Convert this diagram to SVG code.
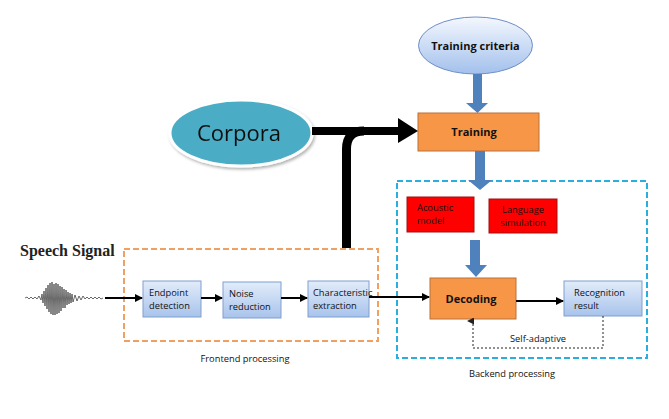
<svg xmlns="http://www.w3.org/2000/svg" width="669" height="419" viewBox="0 0 669 419">
<defs>
<linearGradient id="gBlue" x1="0" y1="0" x2="0" y2="1">
<stop offset="0" stop-color="#e2ecfa"/>
<stop offset="1" stop-color="#a8c3eb"/>
</linearGradient>
<linearGradient id="gEll" x1="0" y1="0" x2="0" y2="1">
<stop offset="0" stop-color="#f4f8fe"/>
<stop offset="1" stop-color="#a3c0ec"/>
</linearGradient>
<marker id="ah" markerWidth="8" markerHeight="8" refX="7" refY="4" orient="auto" markerUnits="userSpaceOnUse">
<path d="M0,0 L8,4 L0,8 Z" fill="#000"/>
</marker>
<marker id="ahs" markerWidth="7" markerHeight="7" refX="3.5" refY="6" orient="auto" markerUnits="userSpaceOnUse">
<path d="M0,0 L7,0 L3.5,7 Z" fill="#222" transform="rotate(180 3.5 3.5)"/>
</marker>
<filter id="sh" x="-20%" y="-20%" width="140%" height="140%">
<feDropShadow dx="1.5" dy="2" stdDeviation="1.5" flood-color="#000" flood-opacity="0.3"/>
</filter>
</defs>
<style>
.bx{fill:url(#gBlue);stroke:#7f9fcf;stroke-width:1}
.or{fill:#f79646;stroke:#b9703a;stroke-width:1}
.rd{fill:#ff0000;stroke:#a01010;stroke-width:1}
.t{font-family:"Open Sans","Noto Sans",sans-serif;font-size:9.3px;fill:#111}
.tb{font-family:"Open Sans","Noto Sans",sans-serif;font-size:11px;font-weight:bold;fill:#111}
.ln{stroke:#000;stroke-width:2;fill:none}
.barrow{fill:#4f81bd}
</style>

<g id="dashed-boxes">
<rect x="124" y="249" width="254" height="92" fill="none" stroke="#f0a060" stroke-width="2" stroke-dasharray="6,3"/>
<rect x="397" y="181" width="250" height="177" fill="none" stroke="#2aaede" stroke-width="2" stroke-dasharray="6,3"/>
<text class="t" x="245" y="362" text-anchor="middle" font-size="9">Frontend processing</text>
<text class="t" x="512" y="377" text-anchor="middle" font-size="9">Backend processing</text>
</g>

<g id="speech-signal">
<text x="20" y="256" font-family="Liberation Serif, serif" font-weight="bold" font-size="16" fill="#222">Speech Signal</text>
<polyline fill="none" stroke="#444" stroke-width="0.8" points="25,298 27,297 29,299 31,297 33,299 35,297 37,299 39,296 41,300 42,294 43,303 44,291 45,306 46,288 47,309 48,285 49,312 50,283 51,314 52,282 53,315 54,284 55,315 56,283 57,314 58,284 59,313 60,286 61,311 62,287 63,308 64,289 65,308 66,290 67,305 68,292 69,304 70,293 71,303 72,294 73,302 75,295 77,301 79,296 81,300 83,296 85,299 87,297 89,299 91,297 93,299 95,297 97,299 99,297 101,299 103,298"/>
</g>

<g id="corpora" filter="url(#sh)">
<ellipse cx="241" cy="133" rx="71" ry="33" fill="#4bacc6" stroke="#ffffff" stroke-width="3"/>
<text x="239" y="141" text-anchor="middle" font-family="Open Sans, Noto Sans, sans-serif" font-size="22" fill="#111">Corpora</text>
</g>

<g id="training-criteria">
<ellipse cx="475.5" cy="45.5" rx="57" ry="28.5" fill="url(#gEll)" stroke="#6d8fc7" stroke-width="1"/>
<text class="tb" x="475.5" y="50" text-anchor="middle" font-size="12">Training criteria</text>
</g>

<g id="training">
<rect class="or" x="418" y="113" width="121" height="38"/>
<text class="tb" x="474" y="136" text-anchor="middle">Training</text>
</g>

<g id="endpoint-detection">
<rect class="bx" x="143" y="281" width="58" height="36"/>
<text class="t" x="149" y="296">Endpoint</text>
<text class="t" x="149" y="309">detection</text>
</g>

<g id="noise-reduction">
<rect class="bx" x="223" y="282" width="58" height="36"/>
<text class="t" x="229" y="297">Noise</text>
<text class="t" x="229" y="310">reduction</text>
</g>

<g id="characteristic-extraction">
<rect class="bx" x="308" y="281" width="61" height="36"/>
<text class="t" x="313" y="296">Characteristic</text>
<text class="t" x="313" y="309">extraction</text>
</g>

<g id="acoustic-model">
<rect class="rd" x="407" y="197" width="67" height="35"/>
<text class="t" x="417" y="211">Acoustic</text>
<text class="t" x="417" y="224">model</text>
</g>

<g id="language-simulation">
<rect class="rd" x="489" y="199" width="68" height="34"/>
<text class="t" x="523" y="213" text-anchor="middle">Language</text>
<text class="t" x="523" y="226" text-anchor="middle">simulation</text>
</g>

<g id="decoding">
<rect class="or" x="430" y="278" width="86" height="41"/>
<text class="tb" x="471" y="303" text-anchor="middle" font-size="10.5">Decoding</text>
</g>

<g id="recognition-result">
<rect class="bx" x="564" y="281" width="78" height="35"/>
<text class="t" x="574" y="296">Recognition</text>
<text class="t" x="574" y="309">result</text>
</g>

<g id="connectors">
<line class="ln" x1="105" y1="298" x2="142" y2="298" marker-end="url(#ah)"/>
<line class="ln" x1="201" y1="298" x2="222" y2="298" marker-end="url(#ah)"/>
<line class="ln" x1="281" y1="298" x2="307" y2="298" marker-end="url(#ah)"/>
<line class="ln" x1="369" y1="297" x2="429" y2="297" marker-end="url(#ah)"/>
<line class="ln" x1="516" y1="301" x2="563" y2="301" marker-end="url(#ah)"/>
<polyline fill="none" stroke="#222" stroke-width="1" stroke-dasharray="2,2" points="603,316 603,348 473,348 473,321" marker-end="url(#ahs)"/>
<text class="t" x="538" y="342" text-anchor="middle" font-size="9.5">Self-adaptive</text>
<line x1="312" y1="131" x2="400" y2="131" stroke="#000" stroke-width="8"/>
<path d="M346.5,248 L346.5,149 Q346.5,131 364,131" fill="none" stroke="#000" stroke-width="9"/>
<path d="M398,118 L418,131 L398,143 Z" fill="#000"/>
<path class="barrow" d="M473,74 L482,74 L482,103 L488,103 L477.5,113 L466,103 L473,103 Z"/>
<path class="barrow" d="M475,151 L485,151 L485,180 L492,180 L480,190 L468,180 L475,180 Z"/>
<path class="barrow" d="M470,240 L480,240 L480,265 L487,265 L476,277 L465,265 L470,265 Z"/>
</g>
</svg>
